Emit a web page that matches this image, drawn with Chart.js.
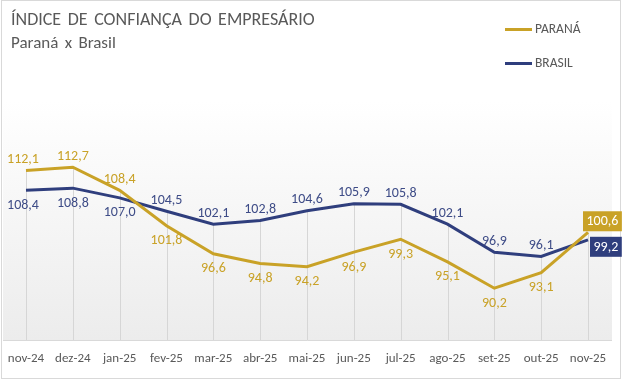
<!DOCTYPE html>
<html><head><meta charset="utf-8">
<script src="https://cdn.jsdelivr.net/npm/chart.js@4.4.1/dist/chart.umd.min.js"></script>
<style>
html,body{margin:0;padding:0;background:#fff;}
#wrap{position:relative;width:625px;height:384px;overflow:hidden;font-family:Carlito,Lato,"Open Sans",sans-serif;}
canvas{position:absolute;left:0;top:0;}
.t{position:absolute;color:#595959;white-space:nowrap;word-spacing:2.5px;}
#title{left:11px;top:8px;font-size:18px;}
#sub{left:11px;top:32px;font-size:17px;}
.lg{position:absolute;left:505px;font-size:13.5px;color:#595959;}
.lg span{display:inline-block;width:27px;height:3px;vertical-align:middle;margin-right:3px;}
</style></head>
<body>
<div id="wrap">
<canvas id="c" width="625" height="384"></canvas>
<div class="t" id="title">ÍNDICE DE CONFIANÇA DO EMPRESÁRIO</div>
<div class="t" id="sub">Paraná x Brasil</div>
<div class="lg" style="top:20px"><span style="background:#C9A227"></span>PARANÁ</div>
<div class="lg" style="top:54px"><span style="background:#2F3E7D"></span>BRASIL</div>
</div>
<script>
const categories = ['nov-24','dez-24','jan-25','fev-25','mar-25','abr-25','mai-25','jun-25','jul-25','ago-25','set-25','out-25','nov-25'];
const parana = [112.1,112.7,108.4,101.8,96.6,94.8,94.2,96.9,99.3,95.1,90.2,93.1,100.6];
const brasil = [108.4,108.8,107.0,104.5,102.1,102.8,104.6,105.9,105.8,102.1,96.9,96.1,99.2];
// label placement: a = above, b = below, box = boxed last value
const paranaPos = ['a','a','a','b','b','b','b','b','b','b','b','b','box'];
const brasilPos = ['b','b','b','a','a','a','a','a','a','a','a','a','box'];

const GOLD = '#C9A227', NAVY = '#2F3E7D';
const FONT = 'Carlito, Lato, "Open Sans", sans-serif';
const fmt = v => v.toFixed(1).replace('.', ',');

const decor = {
  id: 'decor',
  beforeDraw(chart) {
    const {ctx, chartArea: a, scales} = chart;
    ctx.save();
    const g = ctx.createLinearGradient(0, a.top, 0, a.bottom);
    g.addColorStop(0, '#ffffff');
    g.addColorStop(1, '#ececec');
    ctx.fillStyle = g;
    ctx.fillRect(3, a.top, 609, a.bottom - a.top);
    ctx.strokeStyle = '#d6d6d6';
    ctx.lineWidth = 1;
    categories.forEach((c, i) => {
      const x = Math.round(scales.x.getPixelForValue(i)) + 0.5;
      const y = scales.y.getPixelForValue(Math.max(parana[i], brasil[i]));
      ctx.beginPath(); ctx.moveTo(x, y); ctx.lineTo(x, a.bottom); ctx.stroke();
    });
    ctx.strokeStyle = '#d9d9d9';
    ctx.beginPath(); ctx.moveTo(3, Math.round(a.bottom) + 0.5); ctx.lineTo(612, Math.round(a.bottom) + 0.5); ctx.stroke();
    ctx.strokeRect(1.5, 0.5, 619, 378);
    ctx.restore();
  },
  afterDatasetsDraw(chart) {
    const {ctx} = chart;
    ctx.save();
    ctx.font = '14px ' + FONT;
    ctx.textAlign = 'center';
    ctx.textBaseline = 'middle';
    const sets = [[parana, paranaPos, GOLD, '#C9A227'], [brasil, brasilPos, NAVY, '#3E4C87']];
    sets.forEach(([vals, pos, col, tcol], di) => {
      const meta = chart.getDatasetMeta(di);
      meta.data.forEach((pt, i) => {
        const t = fmt(vals[i]);
        if (pos[i] === 'box') {
          const w = ctx.measureText(t).width + 7, h = 20;
          let bx, by;
          if (di === 0) { bx = pt.x - 5; by = pt.y - h - 1; }
          else { bx = pt.x + 2; by = pt.y - 3; }
          ctx.fillStyle = col;
          ctx.fillRect(bx, by, w, h);
          ctx.fillStyle = '#ffffff';
          ctx.fillText(t, bx + w / 2, by + h / 2 + 0.5);
        } else {
          ctx.fillStyle = tcol;
          const y = pos[i] === 'a' ? pt.y - 11 : pt.y + 15;
          ctx.fillText(t, pt.x - (i === 0 ? 3 : 0), y);
        }
      });
    });
    ctx.restore();
  }
};

new Chart(document.getElementById('c'), {
  type: 'line',
  data: {
    labels: categories,
    datasets: [
      {label: 'PARANÁ', data: parana, borderColor: GOLD, borderWidth: 3, pointRadius: 0, tension: 0},
      {label: 'BRASIL', data: brasil, borderColor: NAVY, borderWidth: 3, pointRadius: 0, tension: 0}
    ]
  },
  options: {
    responsive: false,
    animation: false,
    layout: {padding: {left: 26, right: 37, top: 101, bottom: 14}},
    plugins: {legend: {display: false}, tooltip: {enabled: false}},
    scales: {
      x: {
        offset: false,
        grid: {display: false},
        border: {display: false},
        ticks: {color: '#595959', padding: 3, maxRotation: 0, autoSkip: false,
                font: {size: 13, family: FONT}}
      },
      y: {display: false, min: 80.5, max: 125}
    }
  },
  plugins: [decor]
});
</script>
</body></html>
